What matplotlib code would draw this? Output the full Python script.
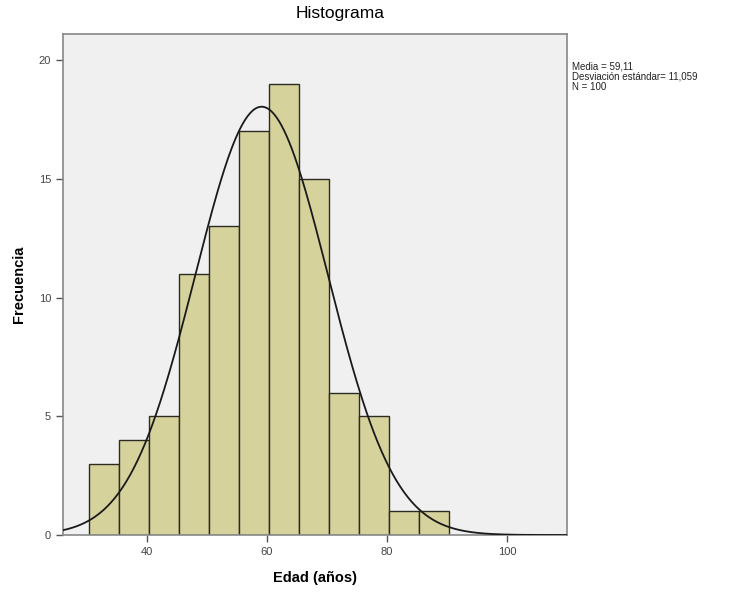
import numpy as np
import matplotlib
matplotlib.use("Agg")
import matplotlib.pyplot as plt

plt.rcParams['font.family'] = ['Liberation Sans', 'DejaVu Sans']

# histogram of ages (SPSS style)
bin_edges = [30.4, 35.4, 40.4, 45.4, 50.4, 55.4, 60.4, 65.4, 70.4, 75.4, 80.4, 85.4, 90.4]
counts = [3, 4, 5, 11, 13, 17, 19, 15, 6, 5, 1, 1]
MEAN, SD, N = 59.11, 11.059, 100
xticks = [40, 60, 80, 100]
yticks = [0, 5, 10, 15, 20]

fig = plt.figure(figsize=(7.55, 5.96), dpi=100)
ax = fig.add_axes([0.0834, 0.1023, 0.6676, 0.8407])
ax.set_facecolor("#F0F0F0")

lefts = np.array(bin_edges[:-1])
widths = np.diff(bin_edges)
ax.bar(lefts, counts, width=widths, align="edge", color="#D6D29C",
       edgecolor="#2b2b22", linewidth=1.0, zorder=2)

# normal curve scaled to counts
bw = widths[0]
xs = np.linspace(26, 110, 400)
ys = N * bw / (SD * np.sqrt(2 * np.pi)) * np.exp(-0.5 * ((xs - MEAN) / SD) ** 2)
ax.plot(xs, ys, color="#1a1a1a", lw=1.3, zorder=3)

ax.set_xlim(26, 110)
ax.set_ylim(0, 21.1)
ax.set_xticks(xticks)
ax.set_yticks(yticks)
ax.tick_params(labelsize=8, labelcolor="#444444", color="#555555", length=5, width=1)
for s in ax.spines.values():
    s.set_color("#888888")
    s.set_linewidth(1.2)

ax.set_xlabel("Edad (años)", fontsize=10.5, fontweight="bold", labelpad=10)
ax.set_ylabel("Frecuencia", fontsize=10.5, fontweight="bold", labelpad=9)
fig.text(0.451, 0.978, "Histograma", ha="center", va="center", fontsize=12.5)

fig.text(0.758, 0.897, f"Media = 59,11\nDesviación estándar= 11,059\nN = {N}",
         ha="left", va="top", fontsize=7, color="#222222", linespacing=1.05)

fig.savefig("out.png", dpi=100)
